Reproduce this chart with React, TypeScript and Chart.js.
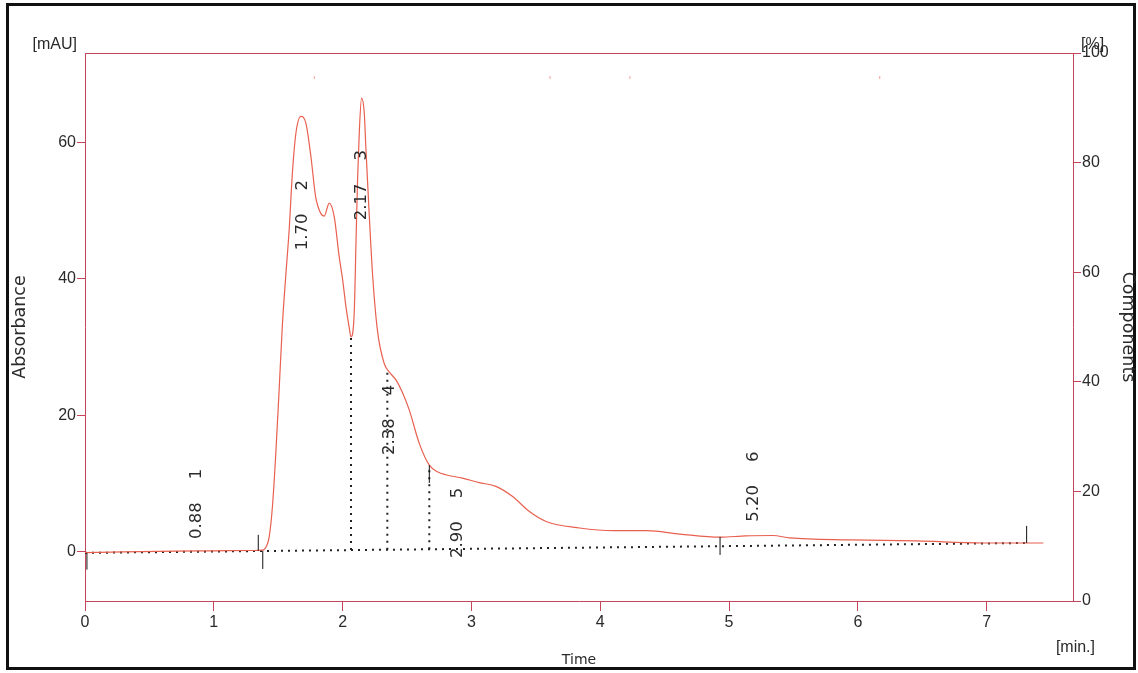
import React, { useEffect, useRef } from 'react';
import { Chart, registerables } from 'chart.js';

Chart.register(...registerables);

// ---------- data ----------
const timeMin = [
  0, 0.3, 0.7, 1.0, 1.3, 1.377, 1.41, 1.43, 1.455, 1.48, 1.507, 1.533, 1.56, 1.585, 1.61, 1.637,
  1.676, 1.715, 1.754, 1.79, 1.83, 1.857, 1.896, 1.935, 1.973, 2.0, 2.026, 2.05, 2.065,
  2.09, 2.103, 2.116, 2.13, 2.147, 2.168, 2.18, 2.206, 2.232, 2.27, 2.323, 2.36, 2.414,
  2.465, 2.517, 2.595, 2.673, 2.74, 2.8, 2.93, 3.06, 3.19, 3.32, 3.45, 3.58, 3.84, 4.1,
  4.36, 4.62, 4.93, 5.13, 5.34, 5.47, 5.94, 6.46, 6.97, 7.44,
];
const absorbance = [
  -0.1, 0.0, 0.1, 0.15, 0.2, 0.25, 0.9, 2.2, 6.6, 14.0, 23.7, 33.5, 40.8, 47.2, 55.5, 61.3,
  63.8, 62.8, 57.9, 52.1, 49.6, 49.2, 51.1, 49.1, 43.3, 39.9, 35.9, 33.0, 31.5,
  35.0, 44.7, 54.5, 61.8, 66.5, 64.3, 59.4, 49.6, 40.8, 32.5, 27.6, 26.4, 25.2,
  23.3, 20.8, 15.9, 12.7, 11.7, 11.3, 10.8, 10.15, 9.6, 8.1, 5.9, 4.45, 3.5, 3.1,
  3.1, 2.6, 2.15, 2.35, 2.4, 2.05, 1.76, 1.6, 1.3, 1.3,
];

const baselineT = [0, 7.31];
const baselineV = [-0.15, 1.3];

const dropT = [2.065, 2.347, 2.673];
const dropTop = [31.5, 26.4, 12.7];
const dropBottom = [0.26, 0.32, 0.38];

const markT = [0.015, 1.345, 1.38, 2.673, 4.93, 7.31];
const markTop = [-0.15, 2.5, 0.15, 12.7, 2.2, 3.8];
const markBottom = [-2.6, 0.15, -2.5, 10.1, -0.45, 1.3];

const peakRT = ['0.88', '1.70', '2.17', '2.38', '2.90', '5.20'];
const peakId = ['1', '2', '3', '4', '5', '6'];
const peakLabelT = [0.87, 1.694, 2.152, 2.362, 2.89, 5.19];
const peakLabelV = [1.9, 44.2, 48.6, 14.2, -0.9, 4.4];

const artifactT = [1.78, 3.61, 4.23, 6.17];
const artifactV = [69.5, 69.5, 69.5, 69.5];

const xTicks = [0, 1, 2, 3, 4, 5, 6, 7];
const yTicks = [0, 20, 40, 60];
const y2Ticks = [0, 20, 40, 60, 80, 100];

// ---------- styles ----------
const AXIS_RED = '#c4465a';
const CURVE_RED = '#e8604f';
const TEXT = '#2a2a2a';
const FONT = 'DejaVu Sans';
const TICK_FONT = 'Liberation Sans';

export default function App() {
  const ref = useRef<HTMLCanvasElement | null>(null);

  useEffect(() => {
    const canvas = ref.current;
    if (!canvas) return;

    const curve = timeMin.map((t, i) => ({ x: t, y: absorbance[i] }));
    const baseline = baselineT.map((t, i) => ({ x: t, y: baselineV[i] }));

    const dropSets = dropT.map((t, i) => ({
      type: 'line' as const,
      data: [{ x: t, y: dropBottom[i] }, { x: t, y: dropTop[i] }],
      borderColor: '#222',
      borderWidth: 2,
      borderDash: [2, 5],
      pointRadius: 0,
      yAxisID: 'y',
      order: 2,
    }));
    const markSets = markT.map((t, i) => ({
      type: 'line' as const,
      data: [{ x: t, y: markBottom[i] }, { x: t, y: markTop[i] }],
      borderColor: '#111',
      borderWidth: 1,
      pointRadius: 0,
      yAxisID: 'y',
      order: 0,
    }));

    const framePlugin = {
      id: 'frame',
      beforeDraw(chart: any) {
        const { ctx, width, height } = chart;
        ctx.save();
        ctx.fillStyle = '#fff';
        ctx.fillRect(0, 0, width, height);
        ctx.strokeStyle = '#111';
        ctx.lineWidth = 3;
        ctx.strokeRect(7.5, 4.5, 1127, 664);
        ctx.restore();
      },
      afterDraw(chart: any) {
        const { ctx, chartArea } = chart;
        ctx.save();
        ctx.strokeStyle = AXIS_RED;
        ctx.lineWidth = 1;
        ctx.beginPath();
        ctx.moveTo(chartArea.left, chartArea.top + 0.5);
        ctx.lineTo(chartArea.right, chartArea.top + 0.5);
        ctx.stroke();
        ctx.fillStyle = TEXT;
        ctx.font = `16px "${TICK_FONT}"`;
        ctx.textBaseline = 'middle';
        ctx.textAlign = 'right';
        ctx.fillText('[mAU]', 77, 45);
        ctx.textAlign = 'left';
        ctx.fillText('[%]', 1081, 45);
        ctx.textAlign = 'right';
        ctx.fillText('[min.]', 1095, 648);
        ctx.restore();
      },
      afterDatasetsDraw(chart: any) {
        const { ctx, scales } = chart;
        ctx.save();
        ctx.fillStyle = TEXT;
        ctx.font = `16.5px "${FONT}"`;
        ctx.textBaseline = 'middle';
        ctx.textAlign = 'left';
        peakRT.forEach((rt, i) => {
          const px = scales.x.getPixelForValue(peakLabelT[i]);
          const py = scales.y.getPixelForValue(peakLabelV[i]);
          ctx.save();
          ctx.translate(px, py);
          ctx.rotate(-Math.PI / 2);
          ctx.fillText(rt, 0, 0);
          const w = ctx.measureText(rt).width;
          ctx.fillText(peakId[i], w + 23, 0);
          ctx.restore();
        });
        ctx.restore();
      },
    };

    const chart = new Chart(canvas, {
      type: 'line',
      data: {
        datasets: [
          {
            data: curve,
            borderColor: CURVE_RED,
            borderWidth: 1.2,
            pointRadius: 0,
            cubicInterpolationMode: 'monotone',
            yAxisID: 'y',
            order: 1,
          },
          {
            data: baseline,
            borderColor: '#222',
            borderWidth: 2,
            borderDash: [2, 5],
            pointRadius: 0,
            yAxisID: 'y',
            order: 2,
          },
          ...dropSets,
          ...markSets,
          {
            data: artifactT.map((t, i) => ({ x: t, y: artifactV[i] })),
            showLine: false,
            pointStyle: 'line',
            rotation: 90,
            pointRadius: 1.5,
            borderWidth: 1,
            borderColor: '#f0a090',
            yAxisID: 'y',
          },
        ] as any,
      },
      options: {
        responsive: false,
        animation: false,
        devicePixelRatio: 1,
        events: [],
        layout: { padding: { top: 53, left: 0, right: 0, bottom: 0 } },
        plugins: { legend: { display: false }, tooltip: { enabled: false }, title: { display: false } },
        scales: {
          x: {
            type: 'linear',
            min: 0,
            max: 7.67,
            afterBuildTicks: (s: any) => { s.ticks = xTicks.map((v) => ({ value: v })); },
            afterFit: (s: any) => { s.height = 72; },
            grid: { drawOnChartArea: false, drawTicks: true, tickLength: 10, color: AXIS_RED },
            border: { display: true, color: AXIS_RED },
            ticks: { color: TEXT, font: { family: TICK_FONT, size: 16 }, padding: 2, maxRotation: 0 },
            title: { display: true, text: 'Time', color: TEXT, font: { family: FONT, size: 14 }, padding: { bottom: 4, top: 0 } },
          },
          y: {
            type: 'linear',
            position: 'left',
            min: -7.2,
            max: 73.1,
            afterBuildTicks: (s: any) => { s.ticks = yTicks.map((v) => ({ value: v })); },
            afterFit: (s: any) => { s.width = 85; },
            grid: { drawOnChartArea: false, drawTicks: true, tickLength: 8, color: AXIS_RED },
            border: { display: true, color: AXIS_RED },
            ticks: { color: TEXT, font: { family: TICK_FONT, size: 16 }, padding: 1 },
            title: { display: true, text: 'Absorbance', color: TEXT, font: { family: FONT, size: 17.5 }, padding: { top: 10, bottom: 0 } },
          },
          y2: {
            type: 'linear',
            position: 'right',
            min: 0,
            max: 100,
            afterBuildTicks: (s: any) => { s.ticks = y2Ticks.map((v) => ({ value: v })); },
            afterFit: (s: any) => { s.width = 65; },
            grid: { drawOnChartArea: false, drawTicks: true, tickLength: 8, color: AXIS_RED },
            border: { display: true, color: AXIS_RED },
            ticks: { color: TEXT, font: { family: TICK_FONT, size: 16 }, padding: 1 },
            title: { display: true, text: 'Components', color: TEXT, font: { family: FONT, size: 17.5 }, padding: { top: 0, bottom: 0 } },
          },
        },
      } as any,
      plugins: [framePlugin],
    });

    return () => chart.destroy();
  }, []);

  return (
    <div style={{ position: 'fixed', left: 0, top: 0, width: 1138, height: 673, background: '#fff' }}>
      <canvas ref={ref} width={1138} height={673} style={{ display: 'block', width: 1138, height: 673 }} />
    </div>
  );
}
